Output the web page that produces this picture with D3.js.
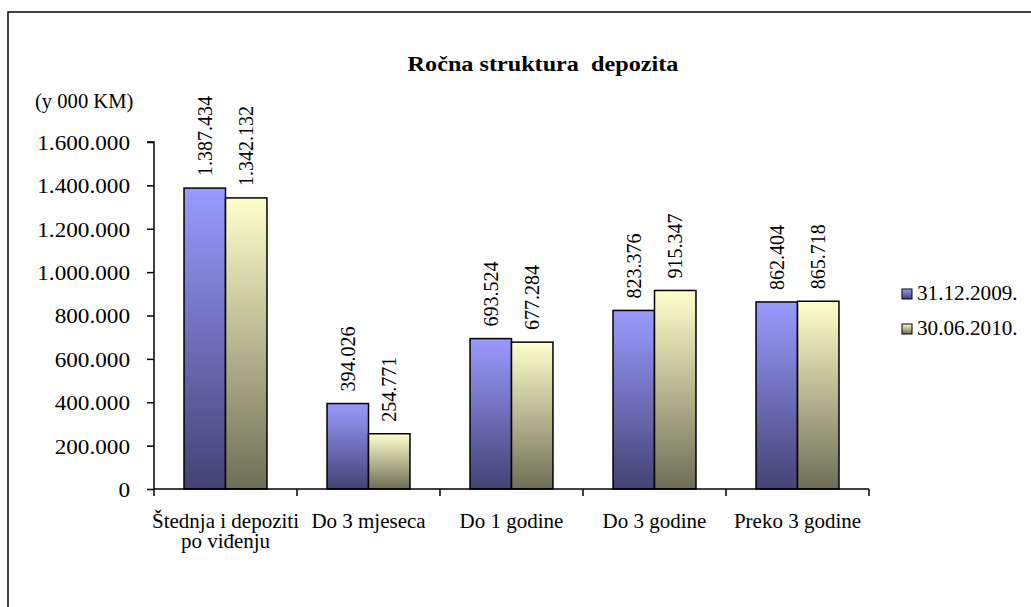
<!DOCTYPE html>
<html>
<head>
<meta charset="utf-8">
<script src="https://cdn.jsdelivr.net/npm/d3@7"></script>
<style>
    body { margin: 0; background: #fff; }
</style>
</head>
<body>
<div id="canvas"></div>
<script>
// chart data
const categories = [["Štednja i depoziti", "po viđenju"], ["Do 3 mjeseca"], ["Do 1 godine"], ["Do 3 godine"], ["Preko 3 godine"]];
const seriesNames = ["31.12.2009.", "30.06.2010."];
const values2009 = [1387434, 394026, 693524, 823376, 862404];
const values2010 = [1342132, 254771, 677284, 915347, 865718];
const yTicks = [0, 200000, 400000, 600000, 800000, 1000000, 1200000, 1400000, 1600000];

const FONT = "'Liberation Serif', 'Times New Roman', Tinos, 'DejaVu Serif', serif";
const loc = d3.formatLocale({ decimal: ",", thousands: ".", grouping: [3], currency: ["", ""] });
const fmt = loc.format(",d");

const width = 1031, height = 607;
const svg = d3.select("#canvas").append("svg")
    .attr("width", width)
    .attr("height", height)
    .attr("font-family", FONT);

// outer frame (runs off the right and bottom edge)
svg.append("rect")
    .attr("x", 8).attr("y", 12)
    .attr("width", 1040).attr("height", 620)
    .attr("fill", "#fff")
    .attr("stroke", "#000")
    .attr("stroke-width", 1.5);

const defs = svg.append("defs");
const gradStops = [["#9a9aff", "#434374"], ["#ffffcc", "#6e6e57"]];
gradStops.forEach((g, i) => {
    let grad = defs.append("linearGradient")
        .attr("id", "grad" + i)
        .attr("x1", 0).attr("y1", 0).attr("x2", 0).attr("y2", 1);
    grad.append("stop").attr("offset", "0%").attr("stop-color", g[0]);
    grad.append("stop").attr("offset", "100%").attr("stop-color", g[1]);
});

let x0 = d3.scaleBand()
    .domain(d3.range(categories.length))
    .range([154, 869])
    .paddingInner(0.42)
    .paddingOuter(0.21);
let x1 = d3.scaleBand()
    .domain([0, 1])
    .range([0, x0.bandwidth()]);
let y = d3.scaleLinear()
    .domain([0, 1600000])
    .range([489, 142]);

// title (the source text is a bit wider than plain Times)
svg.append("text")
    .attr("transform", "translate(543,71) scale(1.21,1)")
    .attr("text-anchor", "middle")
    .style("font-size", "20px")
    .style("font-weight", "bold")
    .style("white-space", "pre")
    .text("Ročna struktura  depozita");

svg.append("text")
    .attr("transform", "translate(35,108) scale(1.03,1)")
    .style("font-size", "20px")
    .text("(y 000 KM)");

// y axis
let yAxis = svg.append("g")
    .attr("transform", "translate(154,0)")
    .call(d3.axisLeft(y).tickValues(yTicks).tickSize(7).tickPadding(0).tickFormat(fmt));
yAxis.attr("font-family", FONT).attr("font-size", 20);
yAxis.select(".domain").attr("stroke", "#000").attr("stroke-width", 1.5).attr("d", "M-7," + y(1600000) + "H0V" + y(0));
yAxis.selectAll(".tick line").attr("stroke", "#000").attr("stroke-width", 1.5);
yAxis.selectAll(".tick text")
    .attr("fill", "#000")
    .attr("x", null)
    .attr("transform", "translate(-24,1) scale(1.16,1)");

// bars
const series = [values2009, values2010];
series.forEach((vals, s) => {
    svg.append("g").selectAll("rect")
        .data(vals)
        .join("rect")
        .attr("x", (d, i) => x0(i) + x1(s))
        .attr("y", d => y(d))
        .attr("width", x1.bandwidth())
        .attr("height", d => y(0) - y(d))
        .attr("fill", "url(#grad" + s + ")")
        .attr("stroke", "#000")
        .attr("stroke-width", 1.5);

    svg.append("g").selectAll("text")
        .data(vals)
        .join("text")
        .attr("transform", (d, i) => "translate(" + (x0(i) + x1(s) + x1.bandwidth() / 2 + 7) + "," + (y(d) - 12) + ") rotate(-90)")
        .style("font-size", "20px")
        .text(d => fmt(d));
});

// x axis
const step = x0.step();
const bounds = d3.range(categories.length + 1).map(i => 154 + i * step);
svg.append("line")
    .attr("x1", 154).attr("x2", 869)
    .attr("y1", y(0)).attr("y2", y(0))
    .attr("stroke", "#000").attr("stroke-width", 1.5);
svg.append("g").selectAll("line")
    .data(bounds)
    .join("line")
    .attr("x1", d => d).attr("x2", d => d)
    .attr("y1", y(0)).attr("y2", y(0) + 7)
    .attr("stroke", "#000").attr("stroke-width", 1.5);

let xLabels = svg.append("g").selectAll("text")
    .data(categories)
    .join("text")
    .attr("text-anchor", "middle")
    .attr("transform", (d, i) => "translate(" + (x0(i) + x0.bandwidth() / 2) + ",528) scale(1.05,1)")
    .style("font-size", "20px");
xLabels.selectAll("tspan")
    .data(d => d)
    .join("tspan")
    .attr("x", 0)
    .attr("dy", (d, j) => j === 0 ? 0 : 20)
    .text(d => d);

// legend
const legend = svg.append("g").selectAll("g")
    .data(seriesNames)
    .join("g")
    .attr("transform", (d, i) => "translate(902," + (300 + i * 35) + ")");
legend.append("rect")
    .attr("x", 0).attr("y", -11)
    .attr("width", 10).attr("height", 10)
    .attr("fill", (d, i) => "url(#grad" + i + ")")
    .attr("stroke", "#000");
legend.append("text")
    .attr("transform", "translate(15,0) scale(1.06,1)")
    .style("font-size", "20px")
    .text(d => d);
</script>
</body>
</html>
